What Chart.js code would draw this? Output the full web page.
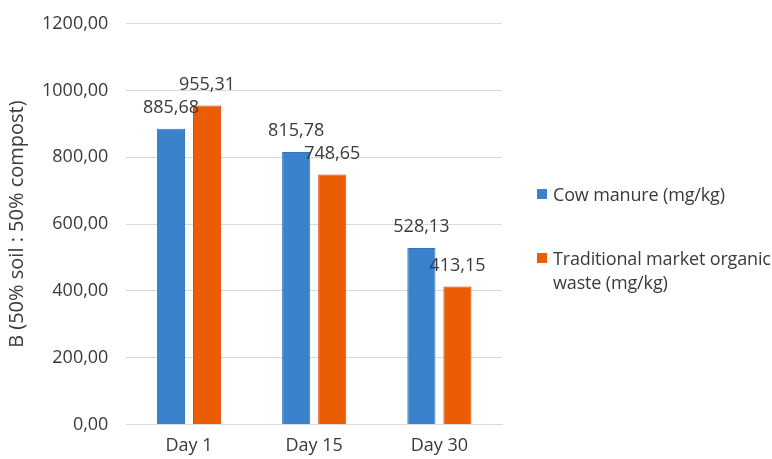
<!DOCTYPE html>
<html>
<head>
<meta charset="utf-8">
<script src="https://cdn.jsdelivr.net/npm/chart.js@4/dist/chart.umd.min.js"></script>
<style>
    body { margin: 0; background: #fff; overflow: hidden; }
    #wrap { position: relative; width: 772px; height: 459px; overflow: hidden; }
    #grafico { position: absolute; left: 0; top: -5px; }
    #legend { position: absolute; left: 537px; top: 182px; width: 240px; font-family: "Open Sans", sans-serif; font-size: 18px; letter-spacing: -0.15px; color: #3a3a3a; }
    .item { display: flex; align-items: flex-start; margin-bottom: 40px; line-height: 24px; }
    .box { width: 10px; height: 10px; margin: 7px 6px 0 0; flex: none; }
</style>
</head>
<body>
<div id="wrap">
    <canvas id="grafico" width="772" height="464"></canvas>
    <div id="legend"></div>
</div>
<script>
const categorias = ['Day 1', 'Day 15', 'Day 30'];
const vacaValores = [885.68, 815.78, 528.13];
const mercadoValores = [955.31, 748.65, 413.15];
const series = ['Cow manure (mg/kg)', 'Traditional market organic waste (mg/kg)'];
const ejeY = 'B (50% soil : 50% compost)';

const fuente = '"Open Sans", sans-serif';
const colorTexto = '#3a3a3a';
const fmt = (v) => v.toFixed(2).replace('.', ',');

// etiquetas encima de cada barra
const etiquetas = {
    id: 'etiquetas',
    afterDatasetsDraw(chart) {
        const ctx = chart.ctx;
        ctx.save();
        ctx.font = '18px ' + fuente;
        ctx.fillStyle = colorTexto;
        ctx.textAlign = 'center';
        ctx.textBaseline = 'bottom';
        chart.data.datasets.forEach((ds, i) => {
            chart.getDatasetMeta(i).data.forEach((bar, j) => {
                ctx.fillText(fmt(ds.data[j]), bar.x, bar.y - 12);
            });
        });
        ctx.restore();
    }
};

const chart = new Chart(document.getElementById('grafico'), {
    type: 'bar',
    data: {
        labels: categorias,
        datasets: [{
            label: series[0],
            data: vacaValores,
            backgroundColor: '#3A82CC',
            borderColor: '#2F76C2',
            borderWidth: 1,
            categoryPercentage: 0.576,
            barPercentage: 0.78
        }, {
            label: series[1],
            data: mercadoValores,
            backgroundColor: '#EA5D04',
            borderColor: '#E4480C',
            borderWidth: 1,
            categoryPercentage: 0.576,
            barPercentage: 0.78
        }]
    },
    options: {
        responsive: false,
        animation: false,
        layout: { padding: { left: 2, right: 270, top: 7, bottom: -9 } },
        plugins: { legend: { display: false }, tooltip: { enabled: false } },
        scales: {
            x: {
                grid: { display: false, drawTicks: false },
                border: { color: '#d9d9d9' },
                ticks: { color: colorTexto, font: { family: fuente, size: 18 }, padding: 11 }
            },
            y: {
                min: 0,
                max: 1200,
                ticks: {
                    stepSize: 200,
                    color: colorTexto,
                    font: { family: fuente, size: 18 },
                    padding: 18,
                    callback: (v) => fmt(v)
                },
                grid: { color: '#d9d9d9', drawTicks: false },
                border: { display: false },
                title: {
                    display: true,
                    text: ejeY,
                    color: colorTexto,
                    font: { family: fuente, size: 20 },
                    padding: { top: 3, bottom: -5 }
                }
            }
        }
    },
    plugins: [etiquetas]
});

const legend = document.getElementById('legend');
chart.data.datasets.forEach(ds => {
    const item = document.createElement('div');
    item.className = 'item';
    item.innerHTML = `<span class="box" style="background:${ds.backgroundColor}"></span><span>${ds.label}</span>`;
    legend.appendChild(item);
});
</script>
</body>
</html>
